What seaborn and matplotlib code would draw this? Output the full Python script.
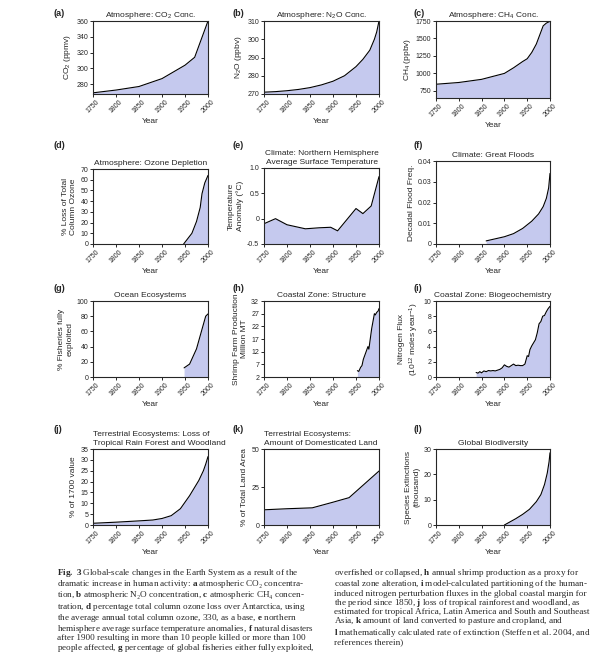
import matplotlib
matplotlib.use("Agg")
import matplotlib.pyplot as plt
import seaborn as sns
import pandas as pd

sns.set_style("ticks")
plt.rcParams['font.family'] = ['Liberation Sans', 'DejaVu Sans']
plt.rcParams['mathtext.fontset'] = 'custom'
plt.rcParams['mathtext.rm'] = 'Liberation Sans'
plt.rcParams['mathtext.it'] = 'Liberation Sans:italic'
plt.rcParams['mathtext.bf'] = 'Liberation Serif:bold'

# ---- data ----
co2_years = [1750, 1800, 1850, 1900, 1950, 1971, 2000]
co2_vals = [269, 272.5, 277, 287, 304, 314, 360]

n2o_years = [1750, 1775, 1800, 1825, 1850, 1875, 1900, 1925, 1950, 1965, 1980, 1990, 1995, 2000]
n2o_vals = [271, 271.3, 271.8, 272.5, 273.5, 275, 277, 280, 285, 289, 294, 300, 304, 310]

ch4_years = [1750, 1800, 1850, 1900, 1920, 1940, 1950, 1960, 1970, 1985, 1992, 2000]
ch4_vals = [845, 870, 915, 1000, 1080, 1170, 1210, 1300, 1420, 1680, 1720, 1745]

ozone_years = [1947, 1965, 1975, 1983, 1987, 1993, 2000]
ozone_vals = [0, 10, 21, 34, 47, 57, 64]

temp_years = [1750, 1775, 1800, 1840, 1870, 1895, 1910, 1950, 1965, 1983, 2000]
temp_vals = [-0.1, 0.0, -0.12, -0.2, -0.18, -0.17, -0.24, 0.2, 0.1, 0.25, 0.83]

flood_years = [1860, 1880, 1900, 1920, 1940, 1960, 1975, 1985, 1992, 1997, 2000]
flood_vals = [0.0015, 0.0025, 0.0035, 0.005, 0.0075, 0.011, 0.0145, 0.018, 0.022, 0.027, 0.034]

fish_years = [1948, 1960, 1975, 1988, 1995, 2000]
fish_vals = [12, 17, 37, 65, 80, 83]

shrimp_years = [1953, 1956, 1960, 1963, 1966, 1970, 1973, 1976, 1978, 1981, 1984, 1987, 1990, 1992, 1995, 1998, 2000]
shrimp_vals = [4.5, 4.2, 5.8, 6.5, 9, 11, 12.5, 14, 13, 17, 21, 24, 27, 26.5, 27.5, 28, 29]

nflux_years = [1838, 1842, 1846, 1850, 1855, 1860, 1865, 1870, 1875, 1880, 1885, 1890, 1895,
               1900, 1905, 1910, 1915, 1920, 1925, 1930, 1935, 1940, 1945, 1950, 1953, 1956,
               1960, 1965, 1968, 1972, 1976, 1980, 1984, 1988, 1992, 1996, 2000]
nflux_vals = [0.6, 0.5, 0.7, 0.55, 0.8, 0.7, 0.85, 0.8, 0.85, 0.8, 0.9, 1.0, 1.2,
              1.6, 1.4, 1.3, 1.5, 1.7, 1.5, 1.55, 1.5, 1.5, 1.7, 2.8, 2.7, 3.6,
              4.1, 4.6, 4.9, 5.8, 7.0, 7.3, 8.0, 8.1, 8.6, 9.0, 9.3]

forest_years = [1750, 1800, 1850, 1880, 1900, 1920, 1940, 1960, 1980, 1990, 1995, 2000]
forest_vals = [0.8, 1.3, 1.9, 2.3, 3.0, 4.3, 7.5, 13.5, 20.5, 25, 28, 31.5]

land_years = [1750, 1800, 1855, 1900, 1935, 2000]
land_vals = [10, 10.7, 11.3, 15, 18, 35.5]

ext_years = [1900, 1910, 1925, 1940, 1955, 1970, 1980, 1988, 1994, 1998, 2000]
ext_vals = [0, 1, 2.5, 4.2, 6.2, 9.2, 12, 16, 20.5, 25, 28.5]

x_ticks = [1750, 1800, 1850, 1900, 1950, 2000]

W, H = 606, 668
fill_col = "#c5c9ee"

# (letter, title, ylabel, years, vals, ylim, yticks, ytick labels, box px (l, r, t, b), title loc, letter px)
panels = [
    ("(a)", "Atmosphere: CO$_2$ Conc.", "CO$_2$ (ppmv)", co2_years, co2_vals,
     (267.5, 360), [280, 300, 320, 340, 360], None, (93, 208, 21, 94), "center", (53, 13)),
    ("(b)", "Atmosphere: N$_2$O Conc.", "N$_2$O (ppbv)", n2o_years, n2o_vals,
     (270, 310), [270, 280, 290, 300, 310], None, (264, 379, 21, 94), "center", (232, 13)),
    ("(c)", "Atmosphere: CH$_4$ Conc.", "CH$_4$ (ppbv)", ch4_years, ch4_vals,
     (648, 1750), [750, 1000, 1250, 1500, 1750], None, (436, 550, 21, 98), "center", (413, 13)),
    ("(d)", "Atmosphere: Ozone Depletion", "% Loss of Total\nColumn Ozone", ozone_years, ozone_vals,
     (0, 70), [0, 10, 20, 30, 40, 50, 60, 70], None, (93, 208, 169, 244), "center", (53, 146)),
    ("(e)", "Climate: Northern Hemisphere\nAverage Surface Temperature", "Temperature\nAnomaly (°C)",
     temp_years, temp_vals, (-0.5, 1.0), [-0.5, 0, 0.5, 1.0], ["-0.5", "0", "0.5", "1.0"],
     (264, 379, 168, 244), "center", (232, 146)),
    ("(f)", "Climate: Great Floods", "Decadal Flood Freq.", flood_years, flood_vals,
     (0, 0.04), [0, 0.01, 0.02, 0.03, 0.04], ["0", "0.01", "0.02", "0.03", "0.04"],
     (436, 550, 161, 244), "center", (413, 146)),
    ("(g)", "Ocean Ecosystems", "% Fisheries fully\nexploited", fish_years, fish_vals,
     (0, 100), [0, 20, 40, 60, 80, 100], None, (93, 208, 301, 377), "center", (53, 288)),
    ("(h)", "Coastal Zone: Structure", "Shrimp Farm Production\nMillion MT", shrimp_years, shrimp_vals,
     (2, 32), [2, 7, 12, 17, 22, 27, 32], None, (264, 379, 301, 377), "center", (232, 288)),
    ("(i)", "Coastal Zone: Biogeochemistry", "Nitrogen Flux\n(10$^{12}$ moles year$^{-1}$)",
     nflux_years, nflux_vals, (0, 10), [0, 2, 4, 6, 8, 10], None, (436, 550, 301, 377), "center", (413, 288)),
    ("(j)", "Terrestrial Ecosystems: Loss of\nTropical Rain Forest and Woodland", "% of 1700 value",
     forest_years, forest_vals, (0, 35), [0, 5, 10, 15, 20, 25, 30, 35], None,
     (93, 208, 449, 525), "left", (53, 430)),
    ("(k)", "Terrestrial Ecosystems:\nAmount of Domesticated Land", "% of Total Land Area",
     land_years, land_vals, (0, 50), [0, 25, 50], None, (264, 379, 449, 525), "left", (232, 430)),
    ("(l)", "Global Biodiversity", "Species Extinctions\n(thousand)", ext_years, ext_vals,
     (0, 30), [0, 10, 20, 30], None, (436, 550, 449, 525), "center", (413, 430)),
]

fig = plt.figure(figsize=(W / 100, H / 100), dpi=100)

for letter, title, ylabel, years, vals, ylim, yticks, ylabs, box, tloc, lpos in panels:
    l, r, t, b = box
    ax = fig.add_axes([l / W, 1 - b / H, (r - l) / W, (b - t) / H])
    df = pd.DataFrame({"Year": years, "Value": vals})
    ax.fill_between(df["Year"], df["Value"], ylim[0], color=fill_col, lw=0)
    sns.lineplot(data=df, x="Year", y="Value", ax=ax, color="black", lw=0.8)
    ax.set_xlim(1750, 2000)
    ax.set_ylim(*ylim)
    ax.set_xticks(x_ticks)
    ax.set_xticklabels([str(v) for v in x_ticks], rotation=45, fontsize=5)
    ax.set_yticks(yticks)
    if ylabs is not None:
        ax.set_yticklabels(ylabs)
    ax.tick_params(axis="both", labelsize=5, length=2.5, width=0.7, pad=1)
    for s in ax.spines.values():
        s.set_linewidth(0.8)
    ax.set_xlabel("Year", fontsize=6, labelpad=2)
    ax.set_ylabel(ylabel, fontsize=6, labelpad=2, linespacing=1.3)
    ax.set_title(title, fontsize=6, loc=tloc, pad=3, linespacing=1.35)
    fig.text(lpos[0] / W, 1 - lpos[1] / H, letter,
             fontsize=6.5, fontweight="bold", va="center", ha="left")

left_caption = "\n".join([
    r"$\mathbf{Fig.\ 3}$ Global-scale changes in the Earth System as a result of the",
    "dramatic increase in human activity: $\\mathbf{a}$ atmospheric CO₂ concentra-",
    "tion, $\\mathbf{b}$ atmospheric N₂O concentration, $\\mathbf{c}$ atmospheric CH₄ concen-",
    "tration, $\\mathbf{d}$ percentage total column ozone loss over Antarctica, using",
    "the average annual total column ozone, 330, as a base, $\\mathbf{e}$ northern",
    "hemisphere average surface temperature anomalies, $\\mathbf{f}$ natural disasters",
    "after 1900 resulting in more than 10 people killed or more than 100",
    "people affected, $\\mathbf{g}$ percentage of global fisheries either fully exploited,",
])
right_caption = "\n".join([
    "overfished or collapsed, $\\mathbf{h}$ annual shrimp production as a proxy for",
    "coastal zone alteration, $\\mathbf{i}$ model-calculated partitioning of the human-",
    "induced nitrogen perturbation fluxes in the global coastal margin for",
    "the period since 1850, $\\mathbf{j}$ loss of tropical rainforest and woodland, as",
    "estimated for tropical Africa, Latin America and South and Southeast",
    "Asia, $\\mathbf{k}$ amount of land converted to pasture and cropland, and",
    "$\\mathbf{l}$ mathematically calculated rate of extinction (Steffen et al. 2004, and",
    "references therein)",
])
for x, cap in [(57, left_caption), (334, right_caption)]:
    fig.text(x / W, 1 - 567 / H, cap, fontsize=6.6, va="top", ha="left", linespacing=0.9,
             family=["Liberation Serif", "DejaVu Serif"])

fig.savefig("out.png", dpi=100)
